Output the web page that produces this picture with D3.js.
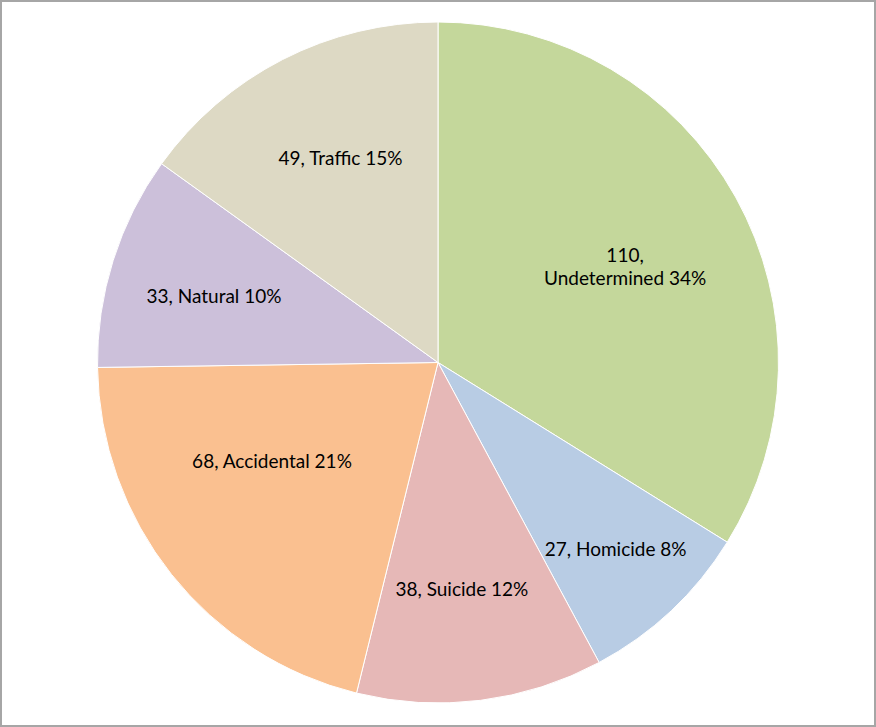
<!DOCTYPE html>
<head>
<meta charset="utf-8">
<title>Deaths by manner</title>
<script src="https://d3js.org/d3.v7.min.js"></script>
<style>
  body { margin: 0; background: #fff; }
  text { font-family: Lato, "Open Sans", sans-serif; font-size: 19px; fill: #000; }
</style>
</head>
<body>
<div id="pie_chart"></div>
<script>

var categories = ["Undetermined", "Homicide", "Suicide", "Accidental", "Natural", "Traffic"];
var counts = [110, 27, 38, 68, 33, 49];
var percents = ["34%", "8%", "12%", "21%", "10%", "15%"];
var colors = ["#c4d79b", "#b8cce4", "#e6b8b7", "#fac090", "#ccc0da", "#ddd9c4"];

// where Excel put each label: fraction of the radius, and a small turn in degrees
var labelRadius = { Undetermined: 0.617, Homicide: 0.758, Suicide: 0.671, Accidental: 0.567, Natural: 0.686, Traffic: 0.664 };
var labelTurn = { Undetermined: 2, Homicide: -0.3, Suicide: 1.2, Accidental: 7.8, Natural: -1, Traffic: 1.6 };

var width = 876, height = 727,
    cx = 438, cy = 362.5, radius = 340.5;

var svg = d3.select("#pie_chart")
  .append("svg")
    .attr("width", width)
    .attr("height", height);

svg.append("rect")
  .attr("x", 1).attr("y", 1)
  .attr("width", width - 2).attr("height", height - 2)
  .attr("fill", "none")
  .attr("stroke", "#a6a6a6")
  .attr("stroke-width", 2);

var data = categories.map(function(c, i) {
  return { name: c, value: counts[i], pct: percents[i], color: colors[i] };
});

var pie = d3.pie()
  .sort(null)
  .value(function(d) { return d.value; });

var arc = d3.arc()
  .innerRadius(0)
  .outerRadius(radius);

var g = svg.append("g")
  .attr("transform", "translate(" + cx + "," + cy + ")");

var arcs = pie(data);

g.selectAll("path")
  .data(arcs)
  .enter()
  .append("path")
    .attr("d", arc)
    .attr("fill", function(d) { return d.data.color; })
    .attr("stroke", "#fff")
    .attr("stroke-width", 1);

var labels = g.selectAll(".label")
  .data(arcs)
  .enter()
  .append("text")
    .attr("class", "label")
    .attr("text-anchor", "middle")
    .attr("transform", function(d) {
      var r = radius * labelRadius[d.data.name];
      var a = (d.startAngle + d.endAngle) / 2 + labelTurn[d.data.name] * Math.PI / 180;
      return "translate(" + (Math.sin(a) * r) + "," + (-Math.cos(a) * r) + ")";
    });

labels.each(function(d) {
  var t = d3.select(this);
  if (d.data.name === "Undetermined") {
    t.append("tspan").attr("x", 0).attr("y", -11.6).attr("dy", "0.35em").text(d.data.value + ",");
    t.append("tspan").attr("x", 0).attr("y", 11.6).attr("dy", "0.35em").text(d.data.name + " " + d.data.pct);
  } else {
    t.append("tspan").attr("x", 0).attr("dy", "0.35em").text(d.data.value + ", " + d.data.name + " " + d.data.pct);
  }
});

</script>
</body>
